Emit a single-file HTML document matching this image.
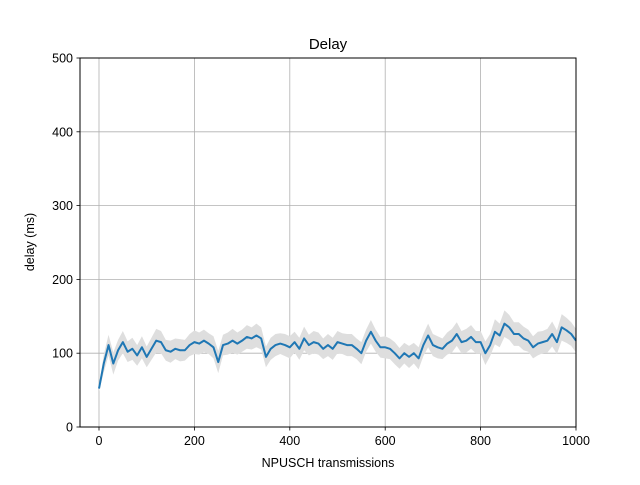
<!DOCTYPE html>
<html><head><meta charset="utf-8"><style>
body{margin:0;background:#fff;}
svg text{font-family:"Liberation Sans","DejaVu Sans",sans-serif;fill:#000;}
</style></head><body>
<svg id="chart" width="640" height="480">
<rect width="640" height="480" fill="#fff"/>
<g id="grid"></g>
<g id="plot"></g>
<rect x="80" y="58" width="496" height="369" fill="none" stroke="#000" stroke-width="1"/>
<g id="ticks"></g>
<text x="328" y="49" font-size="15" text-anchor="middle">Delay</text>
<text x="328" y="467" font-size="12.5" text-anchor="middle">NPUSCH transmissions</text>
<text x="34" y="242" font-size="12.5" text-anchor="middle" transform="rotate(-90 34 242)">delay (ms)</text>
</svg>
<script>
const xs = [0,10,20,30,40,50,60,70,80,90,100,110,120,130,140,150,160,170,180,190,200,210,220,230,240,250,260,270,280,290,300,310,320,330,340,350,360,370,380,390,400,410,420,430,440,450,460,470,480,490,500,510,520,530,540,550,560,570,580,590,600,610,620,630,640,650,660,670,680,690,700,710,720,730,740,750,760,770,780,790,800,810,820,830,840,850,860,870,880,890,900,910,920,930,940,950,960,970,980,990,1000];
const meanDelay = [52,86,111,86,104,115,102,106,97,108,95,106,117,115,104,102,106,104,104,111,115,113,117,113,108,88,111,113,117,113,117,122,120,124,120,95,106,111,113,111,108,115,106,120,111,115,113,106,111,106,115,113,111,111,106,100,117,129,117,108,108,106,100,93,100,95,100,93,111,124,111,108,106,113,117,126,115,117,122,115,115,100,111,129,124,140,135,126,126,120,117,108,113,115,117,126,115,135,131,126,117];
const spread = [4,12,14,15,14,15,14,15,14,15,14,15,16,15,14,15,14,15,14,15,16,15,15,14,15,15,14,15,16,15,15,16,15,16,15,14,15,15,14,15,15,14,15,16,14,15,15,14,15,15,15,14,15,15,14,15,15,16,15,14,15,14,15,14,14,15,14,15,15,16,15,15,14,15,16,16,15,16,16,15,15,16,15,17,16,18,17,16,16,16,15,15,16,15,16,17,16,18,17,16,16];
const xTicks = [0,200,400,600,800,1000];
const yTicks = [0,100,200,300,400,500];
const NS="http://www.w3.org/2000/svg";
const X = v => 99 + v*0.477;
const Y = v => 427 - v*0.738;
function mk(t,a,p){const e=document.createElementNS(NS,t);for(const k in a)e.setAttribute(k,a[k]);p.appendChild(e);return e;}
const grid=document.getElementById('grid'),ticks=document.getElementById('ticks'),plot=document.getElementById('plot');
xTicks.forEach(v=>{
  const g=mk('line',{x1:X(v),x2:X(v),y1:58,y2:427,stroke:'#b0b0b0','stroke-width':0.8},grid);
  
  
  mk('line',{x1:X(v),x2:X(v),y1:427,y2:430.5,stroke:'#000','stroke-width':0.8},ticks);
  const t=mk('text',{x:X(v),y:445,'font-size':12.5,'text-anchor':'middle'},ticks);t.textContent=v;
  
  
});
yTicks.forEach(v=>{
  const g=mk('line',{x1:80,x2:576,y1:Y(v),y2:Y(v),stroke:'#b0b0b0','stroke-width':0.8},grid);
  
  
  mk('line',{x1:76.5,x2:80,y1:Y(v),y2:Y(v),stroke:'#000','stroke-width':0.8},ticks);
  const t=mk('text',{x:73,y:Y(v)+4.5,'font-size':12.5,'text-anchor':'end'},ticks);t.textContent=v;
  
  
});
let up='',lo='';
xs.forEach((x,i)=>{up+=(i?'L':'M')+X(x)+','+Y(meanDelay[i]+spread[i]);});
for(let i=xs.length-1;i>=0;i--){lo+='L'+X(xs[i])+','+Y(meanDelay[i]-spread[i]);}
const band=mk('path',{d:up+lo+'Z',fill:'#dedede',stroke:'none'},plot);


const ln=mk('polyline',{points:xs.map((x,i)=>X(x)+','+Y(meanDelay[i])).join(' '),fill:'none',stroke:'#1f77b4','stroke-width':2,'stroke-linejoin':'round'},plot);


</script>
</body></html>
